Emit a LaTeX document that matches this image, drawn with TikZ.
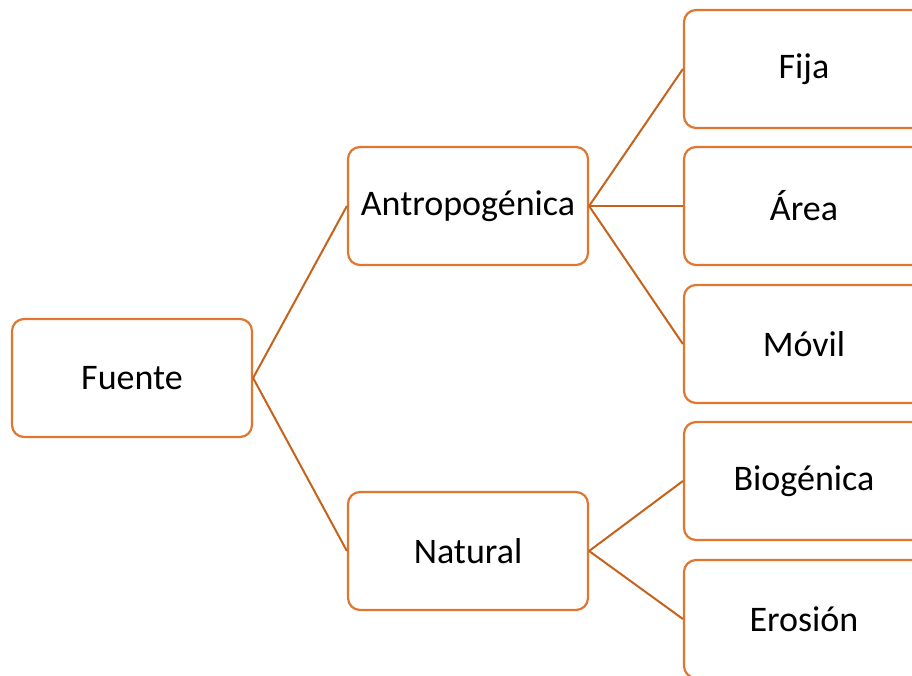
\documentclass[tikz,border=0pt]{standalone}
\usepackage{fontspec}
\setmainfont{Carlito}
\definecolor{boxor}{HTML}{E07730}
\definecolor{lineor}{HTML}{C5621C}
\begin{document}
\begin{tikzpicture}[x=1pt,y=-1pt,
  tbox/.style={draw=boxor,line width=2.2pt,rounded corners=12pt,fill=white,
    minimum width=240pt,minimum height=118pt,inner sep=0pt,
    font=\fontsize{36}{43}\selectfont},
  conn/.style={draw=lineor,line width=2pt}]
\clip (0,0) rectangle (912,676);
\node[tbox] (fuente) at (132,378) {Fuente};
\node[tbox] (antro) at (468,206) {Antropogénica};
\node[tbox] (nat) at (468,551) {Natural};
\node[tbox] (fija) at (804,69) {Fija};
\node[tbox] (area) at (804,206) {Área};
\node[tbox] (movil) at (804,344) {Móvil};
\node[tbox] (bio) at (804,481) {Biogénica};
\node[tbox] (eros) at (804,619) {Erosión};
\draw[conn] (fuente.east) -- (antro.west);
\draw[conn] (fuente.east) -- (nat.west);
\draw[conn] (antro.east) -- (fija.west);
\draw[conn] (antro.east) -- (area.west);
\draw[conn] (antro.east) -- (movil.west);
\draw[conn] (nat.east) -- (bio.west);
\draw[conn] (nat.east) -- (eros.west);
\end{tikzpicture}
\end{document}
